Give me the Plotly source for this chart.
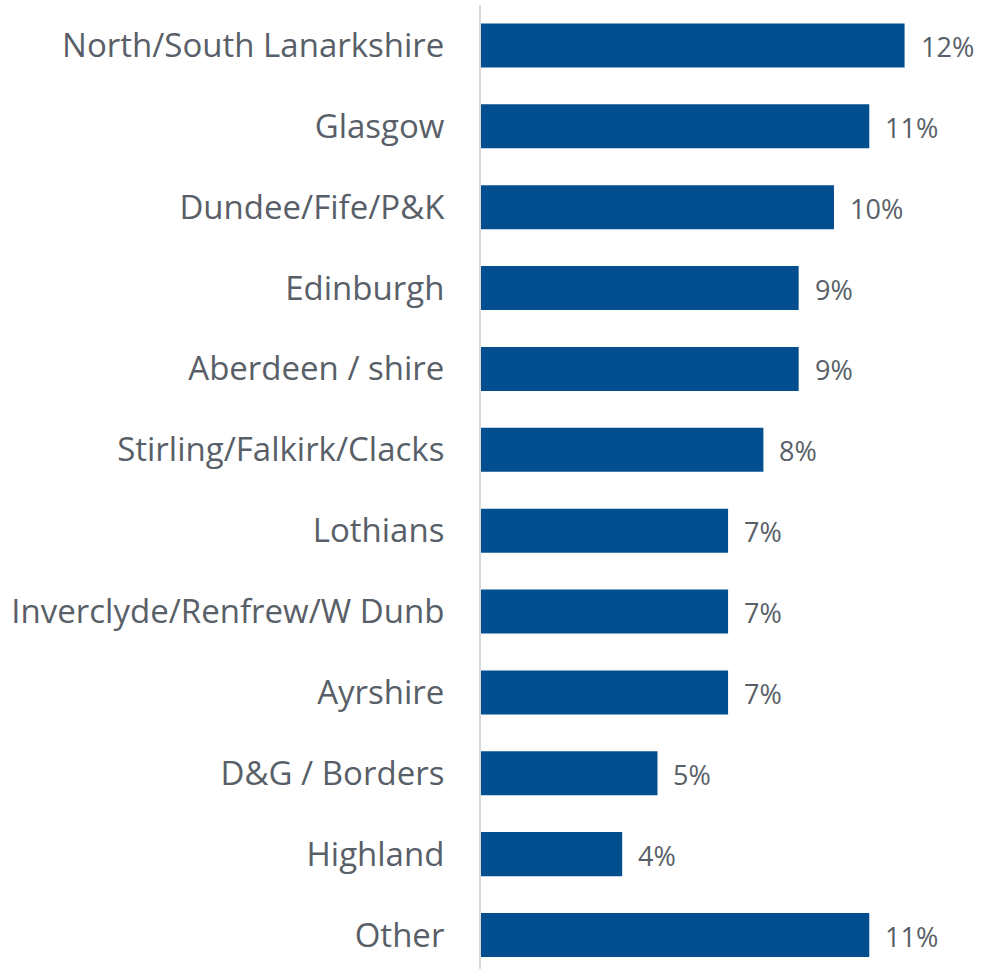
import plotly.graph_objects as go

regions = [
    "North/South Lanarkshire",
    "Glasgow",
    "Dundee/Fife/P&K",
    "Edinburgh",
    "Aberdeen / shire",
    "Stirling/Falkirk/Clacks",
    "Lothians",
    "Inverclyde/Renfrew/W Dunb",
    "Ayrshire",
    "D&G / Borders",
    "Highland",
    "Other",
]
shares = [12, 11, 10, 9, 9, 8, 7, 7, 7, 5, 4, 11]

bar_color = "#034E8F"
text_color = "#595F68"
font_family = "'Open Sans', Lato, sans-serif"

fig = go.Figure(
    go.Bar(
        x=shares,
        y=regions,
        orientation="h",
        marker=dict(color=bar_color, line=dict(width=0)),
        width=0.545,
        hoverinfo="skip",
    )
)

# value labels just right of each bar end
for r, v in zip(regions, shares):
    fig.add_annotation(
        x=v, y=r, text=f"{v}%", showarrow=False,
        xanchor="left", yanchor="middle", xshift=14, yshift=-1,
        font=dict(family=font_family, size=27, color=text_color),
    )

fig.update_layout(
    width=984,
    height=969,
    margin=dict(l=481, r=0, t=5, b=0),
    paper_bgcolor="white",
    plot_bgcolor="white",
    showlegend=False,
    font=dict(family=font_family, color=text_color),
)
fig.update_xaxes(
    range=[0, 14.25],
    showgrid=False, zeroline=False, showticklabels=False, showline=False,
)
fig.update_yaxes(
    categoryorder="array",
    categoryarray=regions,
    range=[11.42, -0.5],
    showgrid=False, zeroline=False,
    showline=True, linecolor="#D9D9D9", linewidth=2,
    ticks="", ticklabelstandoff=28,
    tickfont=dict(family=font_family, size=33, color=text_color),
)

fig.write_html("out.html")
